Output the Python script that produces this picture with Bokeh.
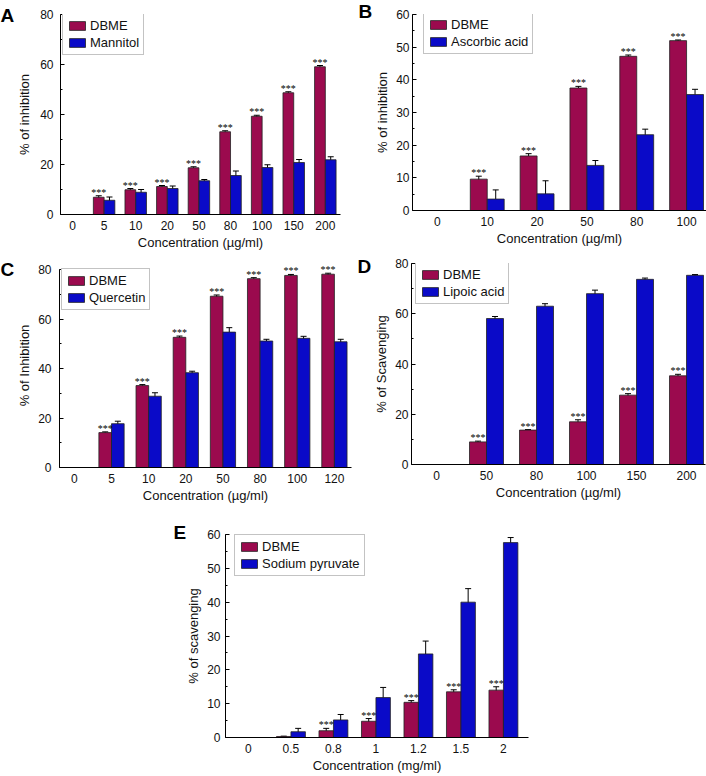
import numpy as np
from bokeh.plotting import figure
from bokeh.models import (ColumnDataSource, Range1d, FixedTicker, SingleIntervalTicker,
                          Whisker, TeeHead, Legend, LegendItem, LabelSet, Label, Spacer)
from bokeh.layouts import column, row
from bokeh.embed import file_html
from bokeh.resources import INLINE

# ---------------- data ----------------
A_conc = ["0", "5", "10", "20", "50", "80", "100", "150", "200"]
A_dbme = [0, 6.9, 9.9, 11.2, 18.7, 33.1, 39.3, 48.7, 59.1]
A_dbme_err = [0, 0.6, 0.5, 0.4, 0.4, 0.4, 0.4, 0.4, 0.5]
A_ref = [0, 5.7, 8.9, 10.4, 13.5, 15.6, 18.8, 20.8, 21.9]
A_ref_err = [0, 1.3, 1.1, 1.0, 0.5, 1.8, 1.1, 1.2, 1.2]
A_sig = ["", "***", "***", "***", "***", "***", "***", "***", "***"]

B_conc = ["0", "10", "20", "50", "80", "100"]
B_dbme = [0, 9.6, 16.7, 37.5, 47.2, 52.0]
B_dbme_err = [0, 0.9, 0.7, 0.5, 0.4, 0.2]
B_ref = [0, 3.5, 5.1, 13.8, 23.2, 35.5]
B_ref_err = [0, 2.8, 4.0, 1.5, 1.7, 1.6]
B_sig = ["", "***", "***", "***", "***", "***"]

C_conc = ["0", "5", "10", "20", "50", "80", "100", "120"]
C_dbme = [0, 14.1, 33.1, 52.6, 69.2, 76.3, 77.6, 78.1]
C_dbme_err = [0, 0.3, 0.4, 0.5, 0.5, 0.4, 0.4, 0.4]
C_ref = [0, 17.7, 28.8, 38.3, 54.7, 51.1, 52.2, 50.8]
C_ref_err = [0, 1.0, 1.4, 0.6, 1.8, 0.7, 0.8, 1.0]
C_sig = ["", "***", "***", "***", "***", "***", "***", "***"]

D_conc = ["0", "50", "80", "100", "150", "200"]
D_dbme = [0, 9.0, 13.7, 17.0, 27.6, 35.3]
D_dbme_err = [0, 0.3, 0.2, 0.8, 0.6, 0.6]
D_ref = [0, 58.1, 63.0, 68.0, 73.7, 75.3]
D_ref_err = [0, 0.8, 1.0, 1.4, 0.5, 0.3]
D_sig = ["", "***", "***", "***", "***", "***"]

E_conc = ["0", "0.5", "0.8", "1", "1.2", "1.5", "2"]
E_dbme = [0, 0.3, 2.0, 4.8, 10.4, 13.5, 14.0]
E_dbme_err = [0, 0.1, 0.7, 0.8, 0.5, 0.6, 1.0]
E_ref = [0, 1.7, 5.2, 11.8, 24.7, 40.0, 57.6]
E_ref_err = [0, 1.0, 1.6, 3.0, 3.8, 4.0, 1.5]
E_sig = ["", "", "***", "***", "***", "***", "***"]

FONT = "Liberation Sans"
RED = "#9B0A4E"
BLUE = "#0A0AC8"
TXT = "#111111"
W = 0.34


def panel(letter, conc, v1, e1, v2, e2, sig, name2, ylabel, xlabel, ymax, yint,
          xr, fw, fh, bl, br, bt, bb, leg_dx, leg_dy, let_x, let_y,
          tick_so, lab_so, yend=None):
    p = figure(frame_width=fw, frame_height=fh, min_border_left=bl, min_border_right=br,
               min_border_top=bt, min_border_bottom=bb,
               x_range=Range1d(*xr), y_range=Range1d(0, yend if yend else ymax),
               output_backend="svg", toolbar_location=None, tools="")
    p.outline_line_color = None
    p.grid.visible = False
    p.background_fill_color = "white"
    p.border_fill_color = "white"

    idx = np.arange(len(conc))
    handles = []
    for vals, errs, color, off in ((v1, e1, RED, -W / 2), (v2, e2, BLUE, W / 2)):
        vals = np.array(vals, dtype=float)
        errs = np.array(errs, dtype=float)
        m = vals > 0
        src = ColumnDataSource(dict(x=idx[m] + off, top=vals[m],
                                    lo=vals[m] - errs[m], hi=vals[m] + errs[m]))
        r = p.vbar(x="x", top="top", bottom=0, width=W, source=src,
                   fill_color=color, line_color="#222222", line_width=0.8)
        wk = Whisker(base="x", upper="hi", lower="lo", source=src,
                     line_color="black", line_width=1,
                     upper_head=TeeHead(size=6, line_color="black", line_width=1),
                     lower_head=TeeHead(size=6, line_color="black", line_width=1))
        p.add_layout(wk)
        handles.append(r)

    v1a = np.array(v1, dtype=float)
    e1a = np.array(e1, dtype=float)
    sm = np.array([s != "" for s in sig])
    ssrc = ColumnDataSource(dict(x=idx[sm] - W / 2, y=(v1a + e1a)[sm],
                                 t=[s for s in sig if s != ""]))
    p.add_layout(LabelSet(x="x", y="y", text="t", source=ssrc, text_align="center",
                          text_baseline="alphabetic", text_font=FONT,
                          text_font_size="10px", text_color="black"))

    xa = p.xaxis[0]
    xa.ticker = FixedTicker(ticks=list(idx))
    xa.major_label_overrides = {int(i): c for i, c in zip(idx, conc)}
    xa.major_tick_in = 0
    xa.major_tick_out = 0
    xa.minor_tick_in = 0
    xa.minor_tick_out = 0
    xa.axis_label = xlabel

    ya = p.yaxis[0]
    ya.ticker = SingleIntervalTicker(interval=yint, num_minor_ticks=2)
    ya.major_tick_in = 4
    ya.major_tick_out = 0
    ya.minor_tick_in = 2
    ya.minor_tick_out = 0
    ya.axis_label = ylabel
    ya.bounds = (0, ymax)

    for ax in (xa, ya):
        ax.axis_line_color = "black"
        ax.axis_line_width = 1
        ax.major_tick_line_color = "black"
        ax.minor_tick_line_color = "black"
        ax.major_label_text_font = FONT
        ax.major_label_text_font_size = "12px"
        ax.major_label_text_color = TXT
        ax.axis_label_text_font = FONT
        ax.axis_label_text_font_size = "13px"
        ax.axis_label_text_font_style = "normal"
        ax.axis_label_text_color = TXT
    xa.major_label_standoff = 6
    xa.axis_label_standoff = 2
    ya.major_label_standoff = tick_so
    ya.axis_label_standoff = lab_so

    leg = Legend(items=[LegendItem(label="DBME", renderers=[handles[0]]),
                        LegendItem(label=name2, renderers=[handles[1]])],
                 location=(leg_dx, fh - 40 - leg_dy),
                 label_text_font=FONT, label_text_font_size="13px", label_text_color=TXT,
                 label_height=15, glyph_height=11, glyph_width=20, spacing=2,
                 padding=4, margin=0, label_standoff=3,
                 border_line_color="#888888", border_line_width=1,
                 background_fill_color="white", background_fill_alpha=1)
    p.add_layout(leg)

    p.add_layout(Label(x=let_x, y=let_y, x_units="screen", y_units="screen", text=letter,
                       text_font=FONT, text_font_size="19px", text_font_style="bold",
                       text_align="left", text_baseline="top", text_color="black"), "left")
    return p


fA = panel("A", A_conc, A_dbme, A_dbme_err, A_ref, A_ref_err, A_sig, "Mannitol",
           "% of inhibition", "Concentration (µg/ml)", 80, 20, (-0.38, 8.48),
           280, 200, 55, 18, 10, 45, 2, 1, 0, 200 + 10, 7, 5)
fB = panel("B", B_conc, B_dbme, B_dbme_err, B_ref, B_ref_err, B_sig, "Ascorbic acid",
           "% of inhibition", "Concentration (µg/ml)", 60, 10, (-0.5, 5.4),
           294, 196, 49, 6, 14, 45, 11, 0, 0, 196 + 14, 3, 3)
fC = panel("C", C_conc, C_dbme, C_dbme_err, C_ref, C_ref_err, C_sig, "Quercetin",
           "% of Inhibition", "Concentration (µg/ml)", 80, 20, (-0.4, 7.46),
           292, 204, 55, 6, 5, 51, 2, 7, 0, 204 + 5, 8, 3, yend=80 * 204 / 198)
fD = panel("D", D_conc, D_dbme, D_dbme_err, D_ref, D_ref_err, D_sig, "Lipoic acid",
           "% of Scavenging", "Concentration (µg/ml)", 80, 20, (-0.5, 5.38),
           294, 201, 49, 6, 8, 51, 4, 1, 0, 201 + 8, 3, 3)
fE = panel("E", E_conc, E_dbme, E_dbme_err, E_ref, E_ref_err, E_sig, "Sodium pyruvate",
           "% of scavenging", "Concentration (mg/ml)", 60, 10, (-0.54, 6.59),
           303, 203, 55, 20, 19, 36, 9, 2, 3, 203 + 13, 5, 3)

layout = column(row(fA, fB), row(fC, fD), row(Spacer(width=170, height=258), fE))

open("out.html", "w").write(file_html(layout, INLINE))
